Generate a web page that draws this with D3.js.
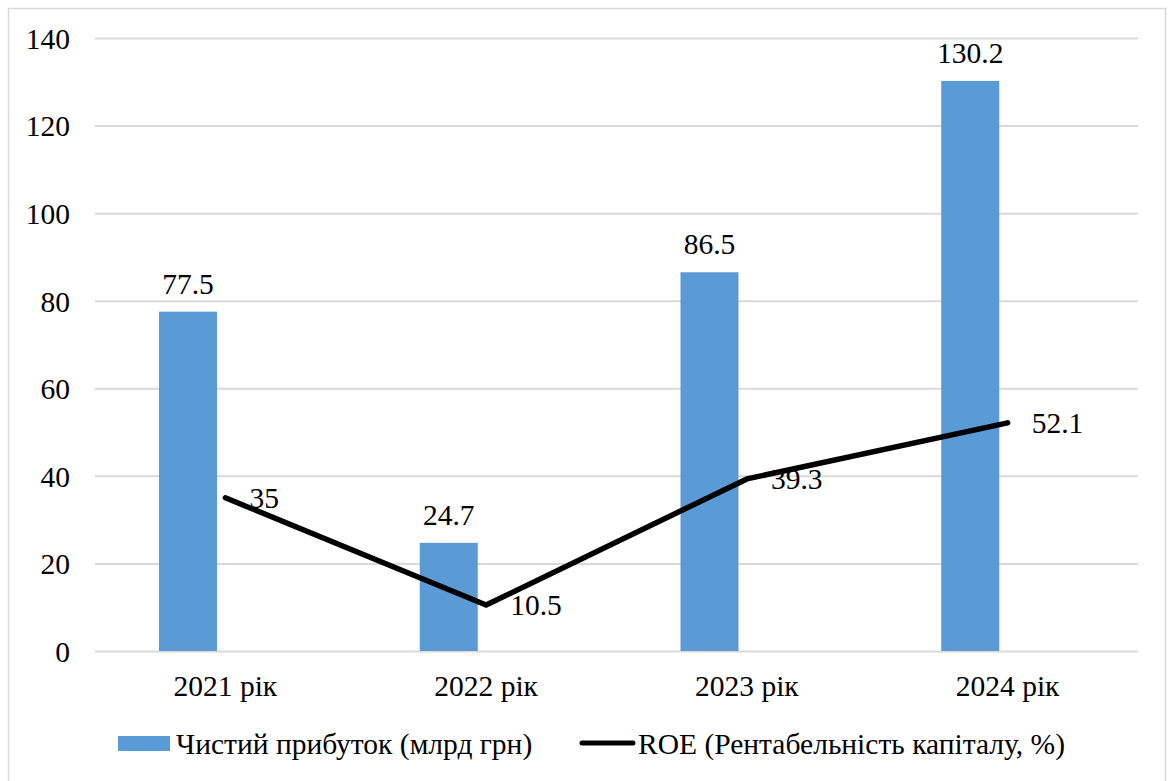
<!DOCTYPE html>
<html>
<head>
<meta charset="utf-8">
<script src="https://cdn.jsdelivr.net/npm/d3@7"></script>
<style>
  html, body { margin: 0; padding: 0; background: #fff; }
  svg { display: block; }
  text { font-family: "Liberation Serif", "Times New Roman", "DejaVu Serif", serif; fill: #000; }
</style>
</head>
<body>
<svg id="chart" width="1168" height="781"></svg>
<script>
// Data
const categories = ["2021 рік", "2022 рік", "2023 рік", "2024 рік"];
const profit = [77.5, 24.7, 86.5, 130.2];   // Чистий прибуток, млрд грн
const roe = [35, 10.5, 39.3, 52.1];          // ROE, %
const yTicks = [0, 20, 40, 60, 80, 100, 120, 140];
const seriesNames = ["Чистий прибуток (млрд грн)", "ROE (Рентабельність капіталу, %)"];

const svg = d3.select("#chart");
const plot = { left: 95, right: 1138, top: 38, bottom: 651 };
const FONT = 29.5;
const SERIF = '"Liberation Serif", "Times New Roman", "DejaVu Serif", serif';
const barColor = "#5B9BD5";
const gridColor = "#D9D9D9";

// outer frame
svg.append("rect")
  .attr("x", 8.5).attr("y", 8.5)
  .attr("width", 1157).attr("height", 800)
  .attr("fill", "#fff")
  .attr("stroke", gridColor).attr("stroke-width", 1.5);

const y = d3.scaleLinear().domain([0, 140]).range([plot.bottom, plot.top]);
const x0 = d3.scaleBand().domain(categories).range([plot.left, plot.right]).padding(0);
// two slots per category: the bar sits in the first, the line series occupies the second
const x1 = d3.scaleBand().domain(seriesNames)
  .range([0, x0.bandwidth()]).paddingInner(0.224).paddingOuter(0.856);

// gridlines + y tick labels
const yAxis = d3.axisLeft(y).tickValues(yTicks)
  .tickSize(-(plot.right - plot.left)).tickPadding(25).tickFormat(d3.format("d"));
const gy = svg.append("g").attr("transform", `translate(${plot.left},0)`).call(yAxis);
gy.attr("font-family", null).attr("font-size", null);
gy.select(".domain").remove();
gy.selectAll(".tick line").attr("stroke", gridColor).attr("stroke-width", 2);
gy.selectAll(".tick text")
  .style("font-family", SERIF)
  .style("font-size", FONT + "px").attr("fill", "#000").attr("dy", "0.35em");

// category labels
const xAxis = d3.axisBottom(x0).tickSize(0).tickPadding(24);
const gx = svg.append("g").attr("transform", `translate(0,${plot.bottom})`).call(xAxis);
gx.attr("font-family", null).attr("font-size", null);
gx.select(".domain").remove();
gx.selectAll(".tick text")
  .style("font-family", SERIF)
  .style("font-size", FONT + "px").attr("fill", "#000").attr("dy", "0.71em");

// bars
const barData = categories.map((c, i) => ({ c, v: profit[i] }));
svg.append("g").selectAll("rect").data(barData).join("rect")
  .attr("x", d => x0(d.c) + x1(seriesNames[0]))
  .attr("width", x1.bandwidth())
  .attr("y", d => y(d.v))
  .attr("height", d => y(0) - y(d.v))
  .attr("fill", barColor);

svg.append("g").selectAll("text").data(barData).join("text")
  .attr("x", d => x0(d.c) + x1(seriesNames[0]) + x1.bandwidth() / 2)
  .attr("y", d => y(d.v) - 18)
  .attr("text-anchor", "middle")
  .style("font-size", FONT + "px")
  .text(d => d.v);

// ROE line
const lineData = categories.map((c, i) => ({ c, v: roe[i] }));
const cx = d => x0(d.c) + x0.bandwidth() / 2;
const line = d3.line().x(cx).y(d => y(d.v));
svg.append("path").datum(lineData)
  .attr("d", line)
  .attr("fill", "none").attr("stroke", "#000")
  .attr("stroke-width", 5.5)
  .attr("stroke-linejoin", "round").attr("stroke-linecap", "round");

svg.append("g").selectAll("text").data(lineData).join("text")
  .attr("x", d => cx(d) + 24)
  .attr("y", d => y(d.v))
  .attr("dy", "0.35em")
  .style("font-size", FONT + "px")
  .text(d => d.v);

// legend
const lg = svg.append("g");
lg.append("rect").attr("x", 118).attr("y", 736).attr("width", 52).attr("height", 15).attr("fill", barColor);
lg.append("text").attr("x", 176).attr("y", 754).style("font-size", FONT + "px").text(seriesNames[0]);
lg.append("line").attr("x1", 582).attr("x2", 633).attr("y1", 743).attr("y2", 743)
  .attr("stroke", "#000").attr("stroke-width", 5).attr("stroke-linecap", "round");
lg.append("text").attr("x", 638).attr("y", 754).style("font-size", FONT + "px").text(seriesNames[1]);
</script>
</body>
</html>
